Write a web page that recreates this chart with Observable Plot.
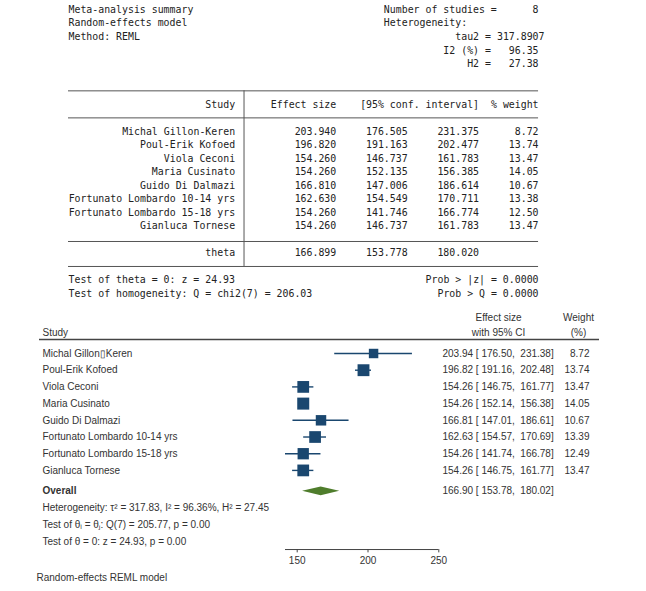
<!DOCTYPE html>
<html><head><meta charset="utf-8">
<script src="https://cdn.jsdelivr.net/npm/d3@7"></script>
<script src="https://cdn.jsdelivr.net/npm/@observablehq/plot@0.6"></script>
<style>
body{margin:0;background:#fff;}
svg{display:block;}
svg text{white-space:pre;}
</style></head><body><div id="summary"></div><div id="forest"></div>
<script>
// ---- Data: Stata text summary ----
const summaryLines = ["Meta-analysis summary", "Random-effects model", "Method: REML"];
const numStudies = 8;
const tau2 = 317.8907, I2 = 96.35, H2 = 27.38;
const tableStudies = ["Michal Gillon-Keren","Poul-Erik Kofoed","Viola Ceconi","Maria Cusinato","Guido Di Dalmazi","Fortunato Lombardo 10-14 yrs","Fortunato Lombardo 15-18 yrs","Gianluca Tornese"];
const tableEffect = [203.940,196.820,154.260,154.260,166.810,162.630,154.260,154.260];
const tableLo = [176.505,191.163,146.737,152.135,147.006,154.549,141.746,146.737];
const tableHi = [231.375,202.477,161.783,156.385,186.614,170.711,166.774,161.783];
const tableWeight = [8.72,13.74,13.47,14.05,10.67,13.38,12.50,13.47];
const thetaRow = {es:166.899, lo:153.778, hi:180.020};
const zTheta = 24.93, qHomog = 206.03, qDf = 7, probZ = 0.0000, probQ = 0.0000;

// ---- Data: forest plot ----
const forestStudies = ["Michal Gillon\u25AFKeren","Poul-Erik Kofoed","Viola Ceconi","Maria Cusinato","Guido Di Dalmazi","Fortunato Lombardo 10-14 yrs","Fortunato Lombardo 15-18 yrs","Gianluca Tornese"];
const forestEffect = [203.94,196.82,154.26,154.26,166.81,162.63,154.26,154.26];
const forestLo = [176.50,191.16,146.75,152.14,147.01,154.57,141.74,146.75];
const forestHi = [231.38,202.48,161.77,156.38,186.61,170.69,166.78,161.77];
const forestWeight = [8.72,13.74,13.47,14.05,10.67,13.39,12.49,13.47];
const overall = {es:166.90, lo:153.78, hi:180.02};
const forestStats = {tau2:317.83, I2:96.36, H2:27.45, Q:205.77, df:7, pQ:0.00, z:24.93, pZ:0.00};
const xTicks = [150, 200, 250];

const f3 = d3.format(".3f"), f2 = d3.format(".2f"), f4 = d3.format(".4f");
const mono = "'DejaVu Sans Mono','Liberation Mono',monospace";
const sans = "'Liberation Sans',Arial,'Noto Sans',sans-serif";
const navy = "#1a476f", green = "#4f7d2c", ink = "#333";

// ---------- Top: Stata output (x = character column, y = output line) ----------
const rows = tableStudies.map((s,i)=>({name:s, es:f3(tableEffect[i]), lo:f3(tableLo[i]), hi:f3(tableHi[i]), w:f2(tableWeight[i]), line:9+i}));
const T = (data, o) => Plot.text(data, {textAnchor:"start", ...o});
const summaryPlot = Plot.plot({
  width:646, height:300, margin:0,
  x:{domain:[0,80], range:[68, 68+80*5.95], axis:null},
  y:{domain:[0,21], range:[9.3, 293], axis:null},
  style:{fontFamily:mono, fontSize:"9.9px", color:"#222", background:"#fff"},
  marks:[
    T(summaryLines, {x:()=>0, y:(d,i)=>i, text:d=>d}),
    T(["Number of studies ="], {x:()=>53, y:()=>0, text:d=>d}),
    Plot.text([numStudies], {x:()=>79, y:()=>0, text:d=>String(d), textAnchor:"end"}),
    T(["Heterogeneity:"], {x:()=>53, y:()=>1, text:d=>d}),
    T(["tau2 ="], {x:()=>65, y:()=>2, text:d=>d}),
    Plot.text([tau2], {x:()=>80, y:()=>2, text:d=>f4(d), textAnchor:"end"}),
    T(["I2 (%) ="], {x:()=>63, y:()=>3, text:d=>d}),
    Plot.text([I2], {x:()=>79, y:()=>3, text:d=>f2(d), textAnchor:"end"}),
    T(["H2 ="], {x:()=>67, y:()=>4, text:d=>d}),
    Plot.text([H2], {x:()=>79, y:()=>4, text:d=>f2(d), textAnchor:"end"}),
    // rules
    Plot.ruleY([6, 8, 17.15, 19], {y:d=>d, x1:()=>0, x2:()=>79, stroke:"#555", strokeWidth:1}),
    Plot.ruleX([29.5], {x:d=>d, y1:()=>6, y2:()=>19, stroke:"#555", strokeWidth:1}),
    // header
    Plot.text([{t:"Study",c:28},{t:"Effect size",c:45},{t:"[95% conf. interval]",c:69},{t:"% weight",c:79}], {x:"c", y:()=>7, text:"t", textAnchor:"end"}),
    // rows
    Plot.text(rows, {x:()=>28, y:"line", text:"name", textAnchor:"end"}),
    Plot.text(rows, {x:()=>45, y:"line", text:"es", textAnchor:"end"}),
    Plot.text(rows, {x:()=>57, y:"line", text:"lo", textAnchor:"end"}),
    Plot.text(rows, {x:()=>69, y:"line", text:"hi", textAnchor:"end"}),
    Plot.text(rows, {x:()=>79, y:"line", text:"w", textAnchor:"end"}),
    Plot.text(["theta"], {x:()=>28, y:()=>18, text:d=>d, textAnchor:"end"}),
    Plot.text([thetaRow], {x:()=>45, y:()=>18, text:d=>f3(d.es), textAnchor:"end"}),
    Plot.text([thetaRow], {x:()=>57, y:()=>18, text:d=>f3(d.lo), textAnchor:"end"}),
    Plot.text([thetaRow], {x:()=>69, y:()=>18, text:d=>f3(d.hi), textAnchor:"end"}),
    T([zTheta], {x:()=>0, y:()=>20, text:d=>`Test of theta = 0: z = ${f2(d)}`}),
    Plot.text([probZ], {x:()=>79, y:()=>20, text:d=>`Prob > |z| = ${f4(d)}`, textAnchor:"end"}),
    T([qHomog], {x:()=>0, y:()=>21, text:d=>`Test of homogeneity: Q = chi2(${qDf}) = ${f2(d)}`}),
    Plot.text([probQ], {x:()=>79, y:()=>21, text:d=>`Prob > Q = ${f4(d)}`, textAnchor:"end"})
  ]
});
document.getElementById("summary").append(summaryPlot);

// ---------- Bottom: forest plot (y = row units) ----------
const frows = forestStudies.map((s,i)=>({name:s, es:forestEffect[i], lo:forestLo[i], hi:forestHi[i], w:forestWeight[i], row:i}));
const ciText = (es,lo,hi)=>`${f2(es)} [ ${f2(lo)},  ${f2(hi)}]`;
const overallRow = 8.25, axisRow = 11.737;
const dh = 0.26;
const diamond = [
  {x:overall.lo, y1:overallRow, y2:overallRow},
  {x:overall.es, y1:overallRow-dh, y2:overallRow+dh},
  {x:overall.hi, y1:overallRow, y2:overallRow}
];
const fs = 10;
const forestPlot = Plot.plot({
  width:646, height:291, marginLeft:39, marginRight:47, marginTop:0, marginBottom:0,
  x:{domain:[150,250], range:[296.7, 438.3], axis:null},
  y:{domain:[0,11.25], range:[53, 240.9], axis:null},
  r:{type:"sqrt", domain:[0,14.05], range:[0,6.77]},
  style:{fontFamily:sans, fontSize:"10px", color:ink, background:"#fff"},
  marks:[
    // header
    Plot.text(["Study"], {frameAnchor:"left", dx:3, y:()=>-1.257, text:d=>d, textAnchor:"start", fontSize:fs}),
    Plot.text(["Effect size","with 95% CI"], {frameAnchor:"right", dx:-101, y:(d,i)=>-2.15+i*0.893, text:d=>d, textAnchor:"middle", fontSize:fs}),
    Plot.text(["Weight","(%)"], {frameAnchor:"right", dx:-21, y:(d,i)=>-2.15+i*0.893, text:d=>d, textAnchor:"middle", fontSize:fs}),
    Plot.ruleY([-0.84], {y:d=>d, stroke:"#444", strokeWidth:1.6}),
    // studies
    Plot.ruleY(frows, {y:"row", x1:"lo", x2:"hi", stroke:navy, strokeWidth:1.4}),
    Plot.dot(frows, {x:"es", y:"row", r:"w", symbol:"square", fill:navy, stroke:null}),
    Plot.text(frows, {frameAnchor:"left", dx:3, y:"row", text:"name", textAnchor:"start", fontSize:fs}),
    Plot.text(frows, {frameAnchor:"right", dx:-157, y:"row", text:d=>ciText(d.es,d.lo,d.hi), textAnchor:"start", fontSize:fs}),
    Plot.text(frows, {frameAnchor:"right", dx:-10, y:"row", text:d=>f2(d.w), textAnchor:"end", fontSize:fs}),
    // overall
    Plot.areaY(diamond, {x:"x", y1:"y1", y2:"y2", fill:green}),
    Plot.text(["Overall"], {frameAnchor:"left", dx:3, y:()=>overallRow, text:d=>d, textAnchor:"start", fontWeight:"bold", fontSize:fs}),
    Plot.text([overall], {frameAnchor:"right", dx:-157, y:()=>overallRow, text:d=>ciText(d.es,d.lo,d.hi), textAnchor:"start", fontSize:fs}),
    Plot.text([forestStats], {frameAnchor:"left", dx:3, y:()=>overallRow+1, textAnchor:"start", fontSize:fs,
      text:d=>`Heterogeneity: \u03C4\u00B2 = ${f2(d.tau2)}, I\u00B2 = ${f2(d.I2)}%, H\u00B2 = ${f2(d.H2)}`}),
    Plot.text([forestStats], {frameAnchor:"left", dx:3, y:()=>overallRow+2, textAnchor:"start", fontSize:fs,
      text:d=>`Test of \u03B8\u1D62 = \u03B8\u2C7C: Q(${d.df}) = ${f2(d.Q)}, p = ${f2(d.pQ)}`}),
    Plot.text([forestStats], {frameAnchor:"left", dx:3, y:()=>overallRow+3, textAnchor:"start", fontSize:fs,
      text:d=>`Test of \u03B8 = 0: z = ${f2(d.z)}, p = ${f2(d.pZ)}`}),
    // axis
    Plot.ruleY([{y:axisRow, x1:d3.min(forestLo), x2:d3.max(xTicks)}], {y:"y", x1:"x1", x2:"x2", stroke:"#444", strokeWidth:1}),
    Plot.ruleX(xTicks, {x:d=>d, y1:()=>axisRow, y2:()=>axisRow+0.2, stroke:"#444", strokeWidth:1}),
    Plot.text(xTicks, {x:d=>d, y:()=>axisRow+0.66, text:d=>String(d), fontSize:fs}),
    // caption
    Plot.text(["Random-effects REML model"], {frameAnchor:"left", dx:-3, y:()=>13.4, text:d=>d, textAnchor:"start", fontSize:fs})
  ]
});
document.getElementById("forest").append(forestPlot);
</script>
</body></html>
